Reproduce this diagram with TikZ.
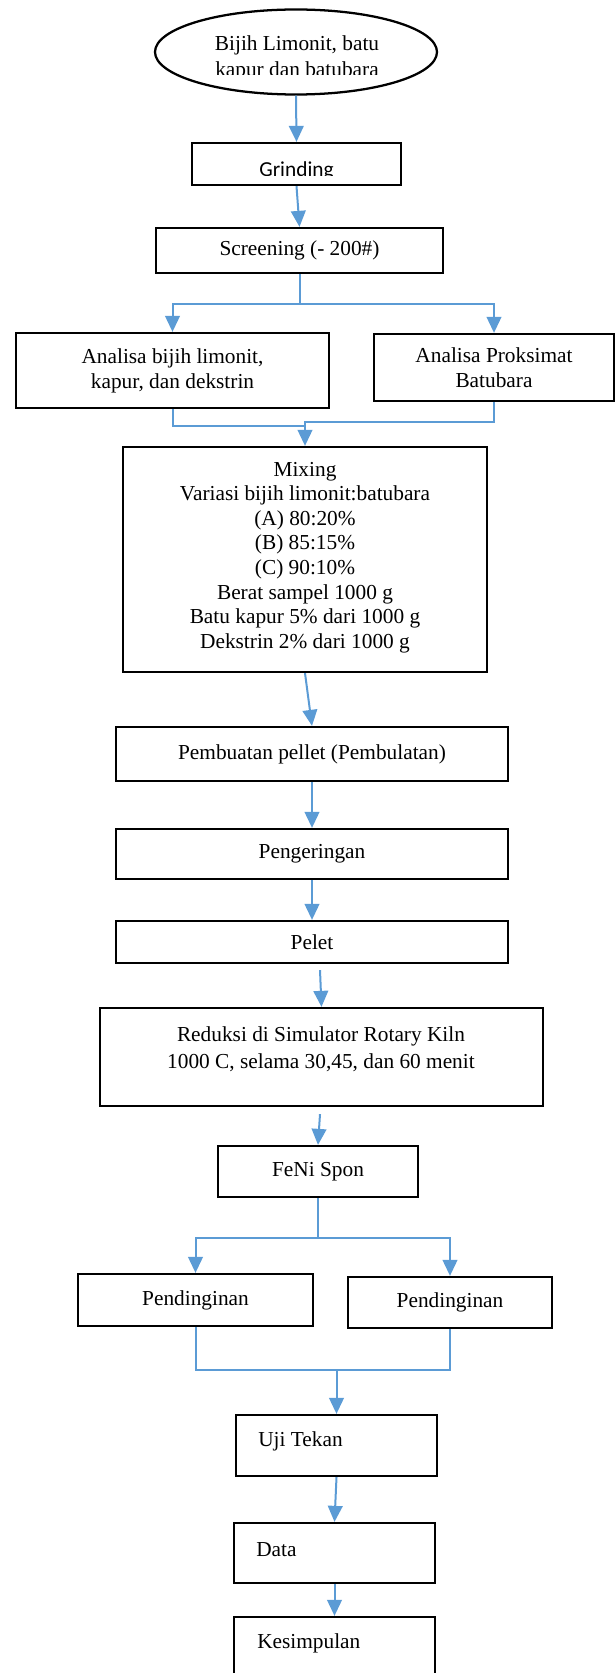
\documentclass[tikz,border=0pt]{standalone}
\usepackage{fontspec}
\setmainfont{Liberation Serif}
\newfontfamily\calfont{Carlito}
\usetikzlibrary{arrows.meta,shapes.geometric,calc}
\definecolor{arrblue}{HTML}{5B9BD5}
\newcommand\txtfont{\fontsize{16pt}{18.6pt}\selectfont}
\begin{document}
\begin{tikzpicture}[x=0.75pt,y=-0.75pt,
  box/.style={draw=black, line width=1.7pt, rectangle, inner sep=0pt, align=center, font=\txtfont},
  plain/.style={inner sep=0pt, align=center, font=\txtfont},
  arr/.style={draw=arrblue, line width=1.5pt, -{Triangle[width=11pt,length=12pt]}},
  ln/.style={draw=arrblue, line width=1.5pt}]
\useasboundingbox (0,0) rectangle (615,1673);

% start ellipse
\node[ellipse, draw=black, line width=1.7pt, minimum width=211.5pt, minimum height=63.75pt, inner sep=0pt] (ell) at (296,52) {};
\begin{scope}
  \clip (150,20) rectangle (445,74.5);
  \node[plain, anchor=north, font=\fontsize{16pt}{19.5pt}\selectfont] (ellt) at (297,35) {Bijih Limonit, batu\\kapur dan batubara};
\end{scope}

% grinding
\node[box, minimum width=156.75pt, minimum height=31.5pt] (grind) at (296.5,164) {};
\begin{scope}
  \clip (192,150) rectangle (401,175.5);
  \node[inner sep=0pt, anchor=base, font=\calfont\fontsize{16pt}{19pt}\selectfont] (grindt) at (296.5,176.8) {Grinding};
\end{scope}

\node[box, minimum width=215.25pt, minimum height=33.75pt] (screen) at (299.5,250.5) {Screening (- 200\#)};

\node[box, minimum width=234.75pt, minimum height=56.25pt] (anL) at (172.5,370.5) {Analisa bijih limonit,\\kapur, dan dekstrin};
\node[box, minimum width=180pt, minimum height=50.25pt] (anR) at (494,367.5) {Analisa Proksimat\\Batubara};

% mixing
\node[box, minimum width=273pt, minimum height=168.75pt] (mix) at (305,559.5) {};
\node[plain, anchor=north, font=\fontsize{16pt}{18.4pt}\selectfont] (mixt) at (305,462) {Mixing\\Variasi bijih limonit:batubara\\(A) 80:20\%\\(B) 85:15\%\\(C) 90:10\%\\Berat sampel 1000 g\\Batu kapur 5\% dari 1000 g\\Dekstrin 2\% dari 1000 g};

\node[box, minimum width=294pt, minimum height=40.5pt] (pemb) at (312,754) {Pembuatan pellet (Pembulatan)};
\node[box, minimum width=294pt, minimum height=37.5pt] (peng) at (312,854) {Pengeringan};
\node[box, minimum width=294pt, minimum height=31.5pt] (pelet) at (312,942) {Pelet};

% reduksi
\node[box, minimum width=332.25pt, minimum height=73.5pt] (red) at (321.5,1057) {};
\node[plain, anchor=north, font=\fontsize{16pt}{20.2pt}\selectfont] (redt) at (321,1026) {Reduksi di Simulator Rotary Kiln\\1000 C, selama 30,45, dan 60 menit};

\node[box, minimum width=150pt, minimum height=38.25pt] (feni) at (318,1171.5) {FeNi Spon};

\node[box, minimum width=176.25pt, minimum height=39pt] (pendL) at (195.5,1300) {Pendinginan};
\node[box, minimum width=153pt, minimum height=38.25pt] (pendR) at (450,1302.5) {Pendinginan};

\node[box, minimum width=150.75pt, minimum height=45.75pt] (uji) at (336.5,1445.5) {};
\node[plain, anchor=base west] (ujit) at (258,1446.7) {Uji Tekan};

\node[box, minimum width=150.75pt, minimum height=45pt] (data) at (334.5,1553) {};
\node[plain, anchor=base west] (datat) at (256,1556) {Data};

\begin{scope}
  \clip (0,0) rectangle (615,1673);
  \node[box, minimum width=150.75pt, minimum height=60pt] (kes) at (334.5,1657) {};
\end{scope}
\node[plain, anchor=base west] (kest) at (257,1648.3) {Kesimpulan};

% connectors
\draw[arr] (ell.south) -- (grind.north);
\draw[arr] (grind.south) -- (screen.north);
\coordinate (s1) at ($(screen.south)+(0,30)$);
\draw[arr] (screen.south) -- (s1) -| (anL.north);
\draw[arr] (s1) -| (anR.north);
\coordinate (m1) at ($(mix.north)+(0,-24)$);
\coordinate (m0) at ($(m1)+(0,4)$);
\draw[ln] (anL.south) |- (m0);
\draw[arr] (anR.south) |- (m1) -- (mix.north);
\draw[arr] (mix.south) -- (pemb.north);
\draw[arr] (pemb.south) -- (peng.north);
\draw[arr] (peng.south) -- (pelet.north);
\coordinate (p1) at ($(pelet.south)+(8,6)$);
\draw[arr] (p1) -- (red.north);
\coordinate (r1) at ($(red.south)+(-1.5,7)$);
\draw[arr] (r1) -- (feni.north);
\coordinate (f1) at ($(feni.south)+(0,40)$);
\draw[arr] (feni.south) -- (f1) -| (pendL.north);
\draw[arr] (f1) -| (pendR.north);
\coordinate (u1) at ($(uji.north)+(0,-44)$);
\draw[ln] (pendL.south) |- (u1);
\draw[arr] (pendR.south) |- (u1) -- (uji.north);
\draw[arr] (uji.south) -- (data.north);
\draw[arr] (data.south) -- (kes.north);
\end{tikzpicture}
\end{document}
